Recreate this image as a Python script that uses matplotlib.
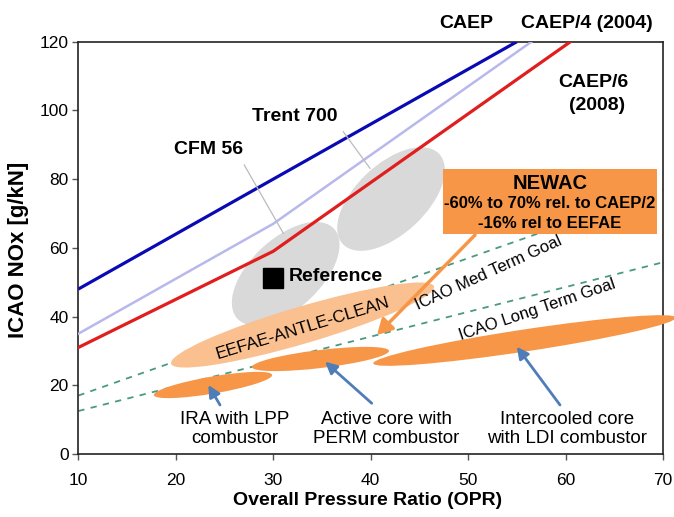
import matplotlib
matplotlib.use("Agg")
import matplotlib.pyplot as plt
from matplotlib.patches import Ellipse, Rectangle
from matplotlib.transforms import ScaledTranslation

plt.rcParams['font.family'] = ['Liberation Sans', 'DejaVu Sans']

# ---------------- data ----------------
caep2_x = [10, 55]
caep2_y = [48, 120]
caep4_x = [10, 30, 56.5]
caep4_y = [35, 67, 120]
caep6_x = [10, 30, 60.5]
caep6_y = [31, 59, 120]

med_goal_x = [10, 70]
med_goal_y = [17, 77]
long_goal_x = [10, 70]
long_goal_y = [12.5, 55.8]

reference_pt = (30.0, 51.1)

# ellipses: (label, centre x, centre y)
grey_regions = [("CFM 56", 31.28, 52.47), ("Trent 700", 42.09, 74.21)]
eefae_region = ("EEFAE-ANTLE-CLEAN", 33.01, 37.54)
newac_regions = [("IRA with LPP\ncombustor", 23.82, 20.08),
                 ("Active core with\nPERM combustor", 34.85, 27.65),
                 ("Intercooled core\nwith LDI combustor", 55.79, 33.03)]

x_ticks = [10, 20, 30, 40, 50, 60, 70]
y_ticks = [0, 20, 40, 60, 80, 100, 120]

# ---------------- figure ----------------
fig = plt.figure(figsize=(6.74, 5.17), dpi=100)
ax = fig.add_axes([0.1162, 0.1219, 0.8675, 0.7974])
ax.set_xlim(10, 70)
ax.set_ylim(0, 120)
ax.set_xticks(x_ticks)
ax.set_yticks(y_ticks)
ax.tick_params(axis='both', labelsize=12.5, direction='out', length=4, width=1, color='#555555')
ax.tick_params(axis='x', pad=10)
ax.tick_params(axis='y', pad=3)
for s in ax.spines.values():
    s.set_linewidth(1.2)
    s.set_color('#222222')

ax.set_xlabel("Overall Pressure Ratio (OPR)", fontsize=14, fontweight='bold')
ax.set_ylabel("ICAO NOx [g/kN]", fontsize=16, fontweight='bold')
ax.xaxis.set_label_coords(0.494, -0.092)
ax.yaxis.set_label_coords(-0.084, 0.495)

GREY = '#D9D9D9'
ORANGE = '#F79646'
LIGHT_OR = '#FAC090'
ARROW_BLUE = '#4F7DB8'
GREEN = '#4A9A80'


def pix_ellipse(cx, cy, w, h, ang, color, z, clip=True):
    e = Ellipse((0, 0), w, h, angle=ang, facecolor=color, edgecolor='none',
                transform=ScaledTranslation(cx, cy, ax.transData), zorder=z)
    e.set_clip_on(clip)
    ax.add_patch(e)
    return e


# goal lines (under the ellipses)
ax.plot(med_goal_x, med_goal_y, color=GREEN, lw=1.3, dashes=(3.5, 3.5), zorder=1)
ax.plot(long_goal_x, long_goal_y, color=GREEN, lw=1.3, dashes=(3.5, 3.5), zorder=1)

# grey engine regions
pix_ellipse(grey_regions[0][1], grey_regions[0][2], 132, 70, 43, GREY, 2)
pix_ellipse(grey_regions[1][1], grey_regions[1][2], 132, 70, 43, GREY, 2)

# EEFAE region
pix_ellipse(eefae_region[1], eefae_region[2], 274, 37, 16.4, LIGHT_OR, 2)

# NEWAC regions
pix_ellipse(newac_regions[0][1], newac_regions[0][2], 120, 17, 9.7, ORANGE, 3)
pix_ellipse(newac_regions[1][1], newac_regions[1][2], 138, 18, 6.8, ORANGE, 3)
pix_ellipse(newac_regions[2][1], newac_regions[2][2], 306, 22, 8.6, ORANGE, 3, clip=False)

# CAEP lines
ax.plot(caep2_x, caep2_y, color='#0A0AB4', lw=2.3, zorder=4, solid_capstyle='butt')
ax.plot(caep4_x, caep4_y, color='#B8B8EC', lw=1.8, zorder=4)
ax.plot(caep6_x, caep6_y, color='#E01E1E', lw=2.3, zorder=4)

# leader lines
ax.plot([27.03, 31.04], [84.11, 64.23], color='#BBBBBB', lw=0.9, zorder=4)
ax.plot([37.19, 39.93], [93.8, 83.15], color='#BBBBBB', lw=0.9, zorder=4)

# reference marker
ax.plot([reference_pt[0]], [reference_pt[1]], marker='s', ms=15, color='black',
        linestyle='none', zorder=6)
ax.text(31.62, 51.6, "Reference", fontsize=14, fontweight='bold', ha='left',
        va='center', zorder=6)

# labels for engines
ax.text(23.36, 88.5, grey_regions[0][0], fontsize=14, fontweight='bold', ha='center', va='center')
ax.text(32.24, 98.2, grey_regions[1][0], fontsize=14, fontweight='bold', ha='center', va='center')

# CAEP labels
ax.text(49.79, 125.4, "CAEP", fontsize=14, fontweight='bold', ha='center', va='center', clip_on=False)
ax.text(62.2, 125.4, "CAEP/4 (2004)", fontsize=14, fontweight='bold', ha='center', va='center', clip_on=False)
ax.text(62.82, 108.0, "CAEP/6", fontsize=14, fontweight='bold', ha='center', va='center')
ax.text(63.28, 101.3, "(2008)", fontsize=14, fontweight='bold', ha='center', va='center')

# NEWAC box
ax.add_patch(Rectangle((47.42, 64.03), 69.38 - 47.42, 82.95 - 64.03, facecolor=ORANGE,
                       edgecolor='none', zorder=5))
ax.text(58.4, 78.87, "NEWAC", fontsize=14.5, fontweight='bold', ha='center', va='center', zorder=6)
ax.text(58.4, 73.05, "-60% to 70% rel. to CAEP/2", fontsize=12, fontweight='bold', ha='center', va='center', zorder=6)
ax.text(58.4, 67.23, "-16% rel to EEFAE", fontsize=12, fontweight='bold', ha='center', va='center', zorder=6)

# orange arrow
ax.annotate("", xy=(40.65, 34.63), xytext=(50.71, 63.74),
            arrowprops=dict(arrowstyle='-|>,head_length=0.9,head_width=0.5', color=ORANGE,
                            lw=2.5, shrinkA=0, shrinkB=0), zorder=5)

# goal labels
ax.text(52.13, 52.68, "ICAO Med Term Goal", fontsize=12, rotation=24.4, rotation_mode='anchor',
        ha='center', va='center', zorder=6)
ax.text(57.07, 41.91, "ICAO Long Term Goal", fontsize=12, rotation=18.6, rotation_mode='anchor',
        ha='center', va='center', zorder=6)
ax.text(33.06, 36.67, eefae_region[0], fontsize=12.5, rotation=17, rotation_mode='anchor',
        ha='center', va='center', zorder=6)

# blue arrows to NEWAC regions
arrow_tails = [(24.54, 14.26), (40.11, 14.76), (59.43, 14.26)]
arrow_heads = [(23.34, 20.08), (35.32, 26.86), (54.99, 31.23)]
for (tx, ty), (hx, hy) in zip(arrow_tails, arrow_heads):
    ax.annotate("", xy=(hx, hy), xytext=(tx, ty),
                arrowprops=dict(arrowstyle='-|>,head_length=0.7,head_width=0.35', color=ARROW_BLUE,
                                lw=2.0, shrinkA=0, shrinkB=0), zorder=6)

label_x = [26.03, 41.63, 60.15]
for (lab, _, _), lx in zip(newac_regions, label_x):
    ax.text(lx, 7.28, lab, fontsize=13.5, ha='center', va='center', linespacing=1.15, zorder=6)

fig.savefig("out.png", dpi=100)
